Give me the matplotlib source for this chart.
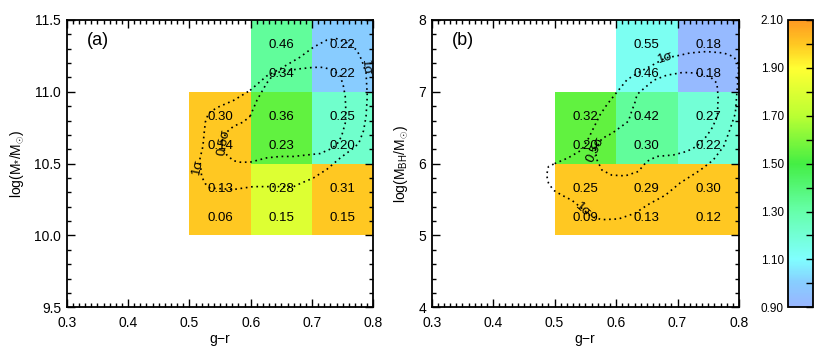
import numpy as np
import matplotlib
matplotlib.use("Agg")
import matplotlib.pyplot as plt
from matplotlib.colors import LinearSegmentedColormap, Normalize
from matplotlib.ticker import MultipleLocator

plt.rcParams['font.family'] = ['Liberation Sans', 'DejaVu Sans']
plt.rcParams['mathtext.fontset'] = 'custom'
plt.rcParams['mathtext.rm'] = 'Liberation Sans'
plt.rcParams['mathtext.it'] = 'Liberation Sans'

# --- bins ---
gr_edges = [0.5, 0.6, 0.7, 0.8]
mstar_edges = [10.0, 10.5, 11.0, 11.5]
mbh_edges = [5.0, 6.0, 7.0, 8.0]

# colour value per cell (rows = mass bins bottom->top, cols = g-r bins)
color_a = [[2.00, 1.80, 2.00],
           [2.00, 1.55, 1.22],
           [np.nan, 1.33, 1.00]]
color_b = [[2.00, 2.00, 2.00],
           [1.55, 1.33, 1.20],
           [np.nan, 1.13, 0.92]]

# numbers written in cells (upper / lower line)
upper_a = [[0.13, 0.28, 0.31], [0.30, 0.36, 0.25], [None, 0.46, 0.22]]
lower_a = [[0.06, 0.15, 0.15], [0.14, 0.23, 0.20], [None, 0.34, 0.22]]
upper_b = [[0.25, 0.29, 0.30], [0.32, 0.42, 0.27], [None, 0.55, 0.18]]
lower_b = [[0.09, 0.13, 0.12], [0.20, 0.30, 0.22], [None, 0.46, 0.18]]

# contours
a_1sig_x = [0.599, 0.626, 0.648, 0.664, 0.680, 0.702, 0.724, 0.740, 0.757, 0.773, 0.781, 0.788,
            0.790, 0.788, 0.784, 0.776, 0.765, 0.746, 0.724, 0.702, 0.680, 0.670, 0.632, 0.604,
            0.572, 0.534, 0.526, 0.520, 0.517, 0.522, 0.524, 0.526, 0.531, 0.545, 0.572]
a_1sig_y = [11.01, 11.11, 11.16, 11.20, 11.24, 11.31, 11.36, 11.37, 11.34, 11.29, 11.22, 11.13,
            10.97, 10.83, 10.73, 10.64, 10.60, 10.54, 10.46, 10.40, 10.36, 10.34, 10.34, 10.34,
            10.32, 10.33, 10.36, 10.41, 10.53, 10.62, 10.71, 10.79, 10.85, 10.89, 10.94]
a_half_x = [0.599, 0.610, 0.626, 0.637, 0.648, 0.664, 0.680, 0.702, 0.718, 0.735, 0.746, 0.751,
            0.754, 0.755, 0.754, 0.748, 0.740, 0.729, 0.713, 0.691, 0.670, 0.648, 0.626, 0.599,
            0.583, 0.572, 0.561, 0.555, 0.553, 0.561, 0.572, 0.588]
a_half_y = [10.83, 10.94, 11.06, 11.12, 11.14, 11.15, 11.16, 11.17, 11.17, 11.15, 11.11, 11.04,
            10.97, 10.87, 10.78, 10.69, 10.63, 10.60, 10.57, 10.56, 10.55, 10.55, 10.54, 10.51,
            10.51, 10.52, 10.56, 10.61, 10.66, 10.72, 10.76, 10.79]
b_1sig_x = [0.500, 0.522, 0.544, 0.555, 0.563, 0.574, 0.585, 0.598, 0.618, 0.639, 0.661, 0.680,
            0.699, 0.720, 0.747, 0.775, 0.791, 0.799, 0.799, 0.796, 0.794, 0.785, 0.775, 0.758,
            0.737, 0.704, 0.680, 0.652, 0.631, 0.604, 0.577, 0.560, 0.547, 0.528, 0.512, 0.498,
            0.490, 0.487, 0.490]
b_1sig_y = [6.00, 6.08, 6.19, 6.35, 6.49, 6.68, 6.82, 6.96, 7.17, 7.28, 7.38, 7.47,
            7.50, 7.54, 7.56, 7.54, 7.49, 7.40, 7.26, 6.93, 6.70, 6.47, 6.24, 6.05,
            5.91, 5.73, 5.56, 5.43, 5.31, 5.23, 5.22, 5.26, 5.36, 5.49, 5.56, 5.63,
            5.73, 5.84, 5.96]
b_half_x = [0.566, 0.577, 0.593, 0.609, 0.620, 0.625, 0.631, 0.634, 0.639, 0.661, 0.682, 0.709,
            0.731, 0.753, 0.764, 0.766, 0.765, 0.758, 0.747, 0.731, 0.715, 0.693, 0.666, 0.650,
            0.636, 0.615, 0.593, 0.577, 0.569]
b_half_y = [6.19, 6.35, 6.42, 6.52, 6.59, 6.72, 6.86, 6.96, 7.00, 7.16, 7.23, 7.27,
            7.26, 7.21, 7.12, 6.93, 6.70, 6.52, 6.38, 6.24, 6.17, 6.12, 6.10, 6.03,
            5.89, 5.83, 5.84, 5.91, 6.05]

# contour labels: (text, x, y, rotation)
labels_a = [("1σ", 0.514, 10.48, 78), ("1σ", 0.787, 11.17, -85), ("0.5σ", 0.556, 10.65, 80)]
labels_b = [("1σ", 0.680, 7.47, 18), ("1σ", 0.546, 5.36, -42), ("0.5σ", 0.566, 6.19, 65)]

cmap = LinearSegmentedColormap.from_list("idl", [
    (0.000, "#99b6ff"), (0.083, "#88ccff"), (0.167, "#80ffff"), (0.333, "#66ffaa"),
    (0.500, "#44ee44"), (0.667, "#bbff33"), (0.833, "#ffff33"), (0.917, "#ffc822"),
    (1.000, "#ff9922")])
norm = Normalize(0.9, 2.1)


def style_axis(ax, xmin, xmax, ymin, ymax, ymaj, ymin_step):
    ax.set_xlim(xmin, xmax)
    ax.set_ylim(ymin, ymax)
    ax.xaxis.set_major_locator(MultipleLocator(0.1))
    ax.xaxis.set_minor_locator(MultipleLocator(0.01))
    ax.yaxis.set_major_locator(MultipleLocator(ymaj))
    ax.yaxis.set_minor_locator(MultipleLocator(ymin_step))
    ax.tick_params(which='both', direction='in', top=True, right=True, labelsize=10)
    ax.tick_params(axis='x', pad=6)
    ax.tick_params(axis='y', pad=4)
    ax.tick_params(which='major', length=6, width=1.0)
    ax.tick_params(which='minor', length=3, width=1.0)
    for s in ax.spines.values():
        s.set_linewidth(1.3)
    ax.set_xlabel("g$-$r", fontsize=10, labelpad=2)


def draw_panel(ax, yedges, colors, upper, lower, contours, labels, tag):
    vals = np.ma.masked_invalid(np.array(colors, dtype=float))
    mesh = ax.pcolormesh(gr_edges, yedges, vals, cmap=cmap, norm=norm, zorder=1)
    for i in range(len(yedges) - 1):
        h = yedges[i + 1] - yedges[i]
        for j in range(len(gr_edges) - 1):
            if upper[i][j] is None:
                continue
            xc = 0.5 * (gr_edges[j] + gr_edges[j + 1])
            ax.text(xc, yedges[i] + 0.65 * h, f"{upper[i][j]:.2f}", ha='center', va='center', fontsize=9.5, zorder=3)
            ax.text(xc, yedges[i] + 0.25 * h, f"{lower[i][j]:.2f}", ha='center', va='center', fontsize=9.5, zorder=3)
    for cx, cy in contours:
        ax.plot(list(cx) + [cx[0]], list(cy) + [cy[0]], color='black', lw=1.2,
                linestyle=(0, (1, 2.2)), zorder=2)
    for t, x, y, r in labels:
        ax.text(x, y, t, rotation=r, ha='center', va='center', fontsize=9.5, zorder=4)
    ax.text(0.065, 0.93, tag, transform=ax.transAxes, ha='left', va='center', fontsize=13)
    return mesh


fig = plt.figure(figsize=(8.3, 3.5), dpi=100)
ax_a = fig.add_axes([0.0804, 0.122, 0.3695, 0.821])
ax_b = fig.add_axes([0.5201, 0.122, 0.3703, 0.821])
cax = fig.add_axes([0.9494, 0.122, 0.0301, 0.821])

draw_panel(ax_a, mstar_edges, color_a, upper_a, lower_a,
           [(a_1sig_x, a_1sig_y), (a_half_x, a_half_y)], labels_a, "(a)")
style_axis(ax_a, 0.3, 0.8, 9.5, 11.5, 0.5, 0.1)
ax_a.set_ylabel("log(M$_{*}$/M$_{\\odot}$)", fontsize=10, labelpad=6)

mesh = draw_panel(ax_b, mbh_edges, color_b, upper_b, lower_b,
                  [(b_1sig_x, b_1sig_y), (b_half_x, b_half_y)], labels_b, "(b)")
style_axis(ax_b, 0.3, 0.8, 4, 8, 1, 0.2)
ax_b.set_ylabel("log(M$_{\\rm BH}$/M$_{\\odot}$)", fontsize=10, labelpad=6)

cb = fig.colorbar(mesh, cax=cax)
cb.set_ticks(np.arange(0.9, 2.11, 0.2))
cb.ax.yaxis.set_major_formatter(matplotlib.ticker.FormatStrFormatter("%.2f"))
cb.ax.yaxis.set_minor_locator(MultipleLocator(0.1))
cb.ax.tick_params(which='both', direction='in', left=False, right=True,
                  labelleft=True, labelright=False, labelsize=8.5, pad=3)
cb.ax.tick_params(which='major', length=5, width=1.0)
cb.ax.tick_params(which='minor', length=5, width=1.0)
cb.outline.set_linewidth(1.3)

fig.savefig("out.png", dpi=100)
